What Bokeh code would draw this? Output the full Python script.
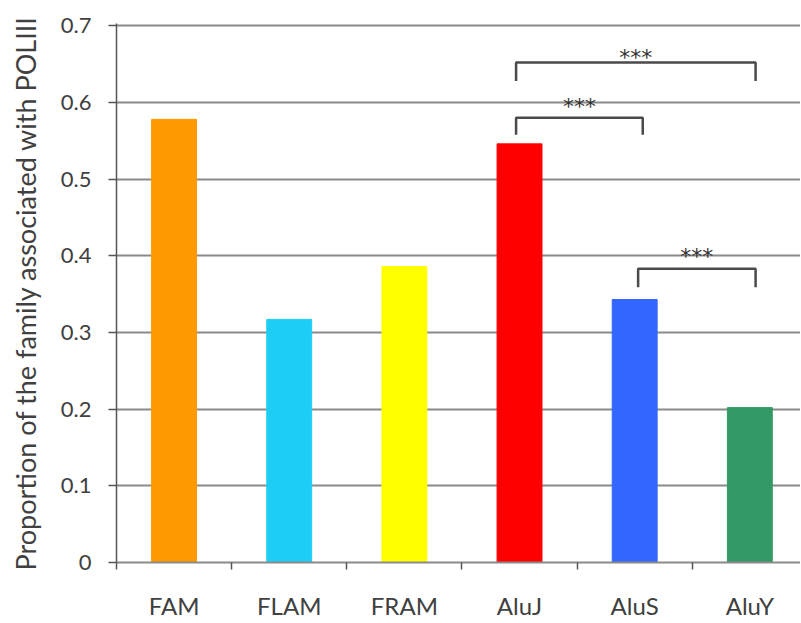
from bokeh.plotting import figure
from bokeh.models import FixedTicker, ColumnDataSource
from bokeh.core.properties import value
from bokeh.embed import file_html
from bokeh.resources import INLINE

# ---- data ----
families = ["FAM", "FLAM", "FRAM", "AluJ", "AluS", "AluY"]
proportions = [0.578, 0.317, 0.386, 0.546, 0.343, 0.202]
bar_colors = ["#FF9900", "#1ECDF5", "#FFFF00", "#FF0000", "#3366FF", "#339966"]
y_ticks = [0, 0.1, 0.2, 0.3, 0.4, 0.5, 0.6, 0.7]
y_tick_labels = ["0", "0.1", "0.2", "0.3", "0.4", "0.5", "0.6", "0.7"]

# significance brackets (left x, right x, top y, leg bottom y, label y, label)
br_left = [3.47, 3.47, 4.53]
br_right = [5.55, 4.57, 5.55]
br_top = [0.652, 0.580, 0.383]
br_bottom = [0.628, 0.558, 0.359]
br_label_y = [0.664, 0.600, 0.404]
br_label = ["***", "***", "***"]

FONT = "Lato"
TXT = "#404040"

xc = [i + 0.5 for i in range(len(families))]

p = figure(width=800, height=623, output_backend="svg", toolbar_location=None,
           x_range=(0, 5.94), y_range=(0, 0.703),
           min_border_left=116, min_border_right=0, min_border_top=23, min_border_bottom=61)
p.outline_line_color = None
p.background_fill_color = "white"
p.border_fill_color = "white"

src = ColumnDataSource(dict(x=xc, top=proportions, color=bar_colors, name=families))
p.vbar(x="x", top="top", bottom=0, width=0.39, color="color", source=src)

# grid
p.xgrid.grid_line_color = None
p.ygrid.ticker = FixedTicker(ticks=y_ticks)
p.ygrid.grid_line_color = "#8a8a8a"
p.ygrid.grid_line_width = 2

# y axis
p.yaxis.ticker = FixedTicker(ticks=y_ticks)
p.yaxis.major_label_overrides = {t: l for t, l in zip(y_ticks, y_tick_labels)}
p.yaxis.axis_line_color = "#555555"
p.yaxis.axis_line_width = 1.5
p.yaxis.major_tick_line_color = "#555555"
p.yaxis.major_tick_line_width = 1.5
p.yaxis.major_tick_out = 8
p.yaxis.major_tick_in = 0
p.yaxis.minor_tick_line_color = None
p.yaxis.major_label_text_font = FONT
p.yaxis.major_label_text_font_size = "22px"
p.yaxis.major_label_text_color = TXT
p.yaxis.major_label_standoff = 17
p.yaxis.axis_label = "Proportion of the family associated with POLIII"
p.yaxis.axis_label_text_font = FONT
p.yaxis.axis_label_text_font_size = "27px"
p.yaxis.axis_label_text_font_style = "normal"
p.yaxis.axis_label_text_color = TXT
p.yaxis.axis_label_standoff = 16

# x axis: labels at centers, ticks at category boundaries
p.xaxis.ticker = FixedTicker(ticks=xc, minor_ticks=[0, 1, 2, 3, 4, 5])
p.xaxis.major_label_overrides = {x: n for x, n in zip(xc, families)}
p.xaxis.axis_line_color = "#8a8a8a"
p.xaxis.axis_line_width = 2
p.xaxis.major_tick_line_color = None
p.xaxis.minor_tick_line_color = "#555555"
p.xaxis.minor_tick_line_width = 1.5
p.xaxis.minor_tick_out = 7
p.xaxis.minor_tick_in = 0
p.xaxis.major_label_text_font = FONT
p.xaxis.major_label_text_font_size = "24px"
p.xaxis.major_label_text_color = TXT
p.xaxis.major_label_standoff = 21

# brackets
for l, r, t, b in zip(br_left, br_right, br_top, br_bottom):
    p.line(x=[l, l, r, r], y=[b, t, t, b], line_color="#4a4a4a", line_width=2.5)
p.text(x=[(l + r) / 2 for l, r in zip(br_left, br_right)],
       y=br_label_y, text=br_label, y_offset=4,
       text_align="center", text_baseline="alphabetic",
       text_font=value("DejaVu Sans"), text_font_size="22px",
       text_color="#333333")

open("out.html", "w").write(file_html(p, INLINE))
